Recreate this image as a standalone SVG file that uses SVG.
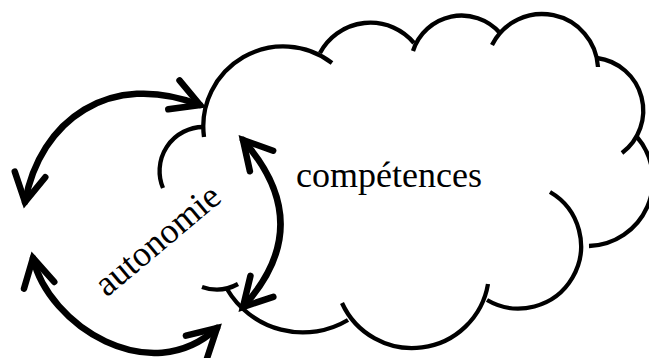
<svg xmlns="http://www.w3.org/2000/svg" width="649" height="358" viewBox="0 0 649 358">
<style>
.cloud{fill:none;stroke:#000;stroke-width:4.3;stroke-linecap:butt}
.conn{fill:none;stroke:#000;stroke-width:6.5;stroke-linecap:round;marker-start:url(#ah);marker-end:url(#ah)}
.lbl{font-family:"Liberation Serif","DejaVu Serif",serif;font-size:36px;fill:#000}
</style>
<defs>
<marker id="ah" viewBox="-40 -25 48 50" refX="0" refY="0" markerWidth="48" markerHeight="50" markerUnits="userSpaceOnUse" orient="auto-start-reverse" overflow="visible">
<path d="M -28,-15.5 L 0,0 L -28,15.5" fill="none" stroke="#000" stroke-width="6.5" stroke-linecap="round" stroke-linejoin="miter"/>
</marker>
</defs>
<rect width="649" height="358" fill="#fff"/>
<g id="competences">
<path class="cloud" d="M 204,137 A 80 80 0 0 1 332,63"/>
<path class="cloud" d="M 320,53 A 57 57 0 0 1 414,43"/>
<path class="cloud" d="M 413,51 A 51 51 0 0 1 500,33"/>
<path class="cloud" d="M 492,45 A 56 56 0 0 1 598,67"/>
<path class="cloud" d="M 597,58 A 53 53 0 0 1 622,153"/>
<path class="cloud" d="M 637,137 A 66 66 0 0 1 589,246"/>
<path class="cloud" d="M 550,192 A 62 62 0 1 1 487,300"/>
<path class="cloud" d="M 488,284 A 77 77 0 0 1 342,303"/>
<path class="cloud" d="M 348,320 A 88 88 0 0 1 227,289"/>
<text class="lbl" x="296" y="187">compétences</text>
</g>
<g id="autonomie">
<path class="cloud" d="M 203,127 A 44 44 0 0 0 163,188"/>
<path class="cloud" d="M 202,287 A 44 44 0 0 0 238,284"/>
<text class="lbl" text-anchor="middle" transform="translate(165,249) rotate(-40)">autonomie</text>
</g>
<g id="connectors">
<path class="conn" d="M 25,202 C 40,120 110,70 200,105"/>
<path class="conn" d="M 33,258 C 48,325 150,390 217,328"/>
<path class="conn" d="M 243,140 Q 318,225 243,307"/>
</g>
</svg>
